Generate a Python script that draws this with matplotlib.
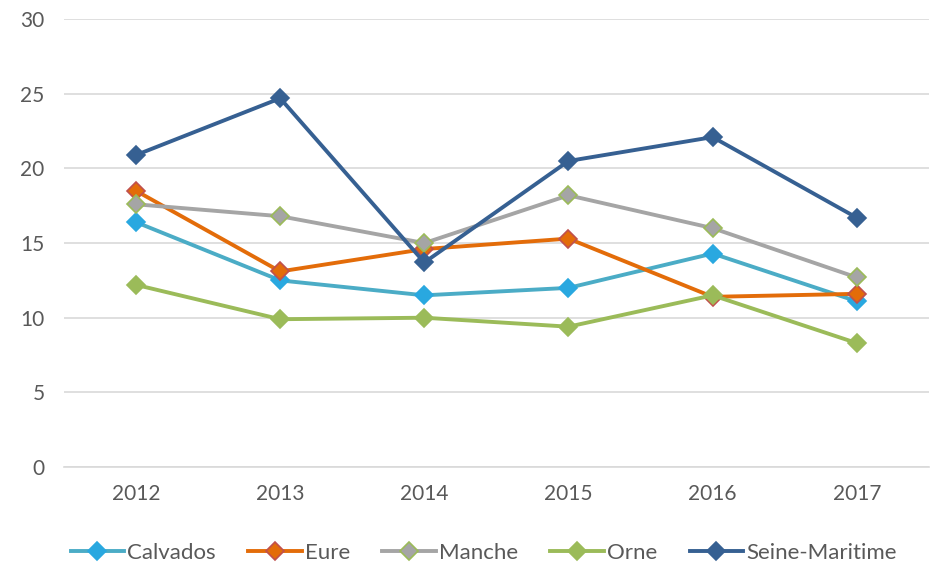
import matplotlib.pyplot as plt

# données
annees = ['2012', '2013', '2014', '2015', '2016', '2017']
calvados = [16.4, 12.5, 11.5, 12.0, 14.3, 11.1]
eure = [18.5, 13.1, 14.6, 15.3, 11.4, 11.6]
manche = [17.6, 16.8, 15.0, 18.2, 16.0, 12.7]
orne = [12.2, 9.9, 10.0, 9.4, 11.5, 8.3]
seine_maritime = [20.9, 24.7, 13.7, 20.5, 22.1, 16.7]

plt.rcParams['font.family'] = ['Lato', 'DejaVu Sans']

fig = plt.figure(figsize=(9.34, 5.64), dpi=100)
ax = fig.add_axes([0.0685, 0.172, 0.926, 0.794])

x = range(len(annees))
series = [
    ('Calvados', calvados, '#4BACC6', '#29A8E0', '#29A8E0'),
    ('Eure', eure, '#E36C09', '#E36C09', '#C0504D'),
    ('Manche', manche, '#A5A5A5', '#A5A5A5', '#9BBB59'),
    ('Orne', orne, '#9BBB59', '#9BBB59', '#9BBB59'),
    ('Seine-Maritime', seine_maritime, '#366092', '#366092', '#366092'),
]
for nom, vals, c, face, edge in series:
    ax.plot(x, vals, color=c, linewidth=2.8, marker='D', markersize=9,
            markerfacecolor=face, markeredgecolor=edge, markeredgewidth=1.2,
            label=nom)

ax.set_xlim(-0.5, 5.5)
ax.set_ylim(0, 30)
ax.set_yticks(range(0, 31, 5))
ax.set_xticks(list(x))
ax.set_xticklabels(annees)
ax.grid(axis='y', color='#D9D9D9', linewidth=1.2)
ax.set_axisbelow(True)
for s in ['top', 'right', 'left']:
    ax.spines[s].set_visible(False)
ax.spines['bottom'].set_color('#D9D9D9')
ax.spines['bottom'].set_linewidth(1.2)
ax.tick_params(length=0, labelsize=15, labelcolor='#595959', pad=12)
ax.tick_params(axis='y', pad=14)

fig.legend(loc='lower center', ncol=5, bbox_to_anchor=(0.518, -0.034),
           frameon=False, fontsize=16, labelcolor='#595959',
           handlelength=2.4, handletextpad=0.15, columnspacing=1.45)

fig.savefig('out.png')
